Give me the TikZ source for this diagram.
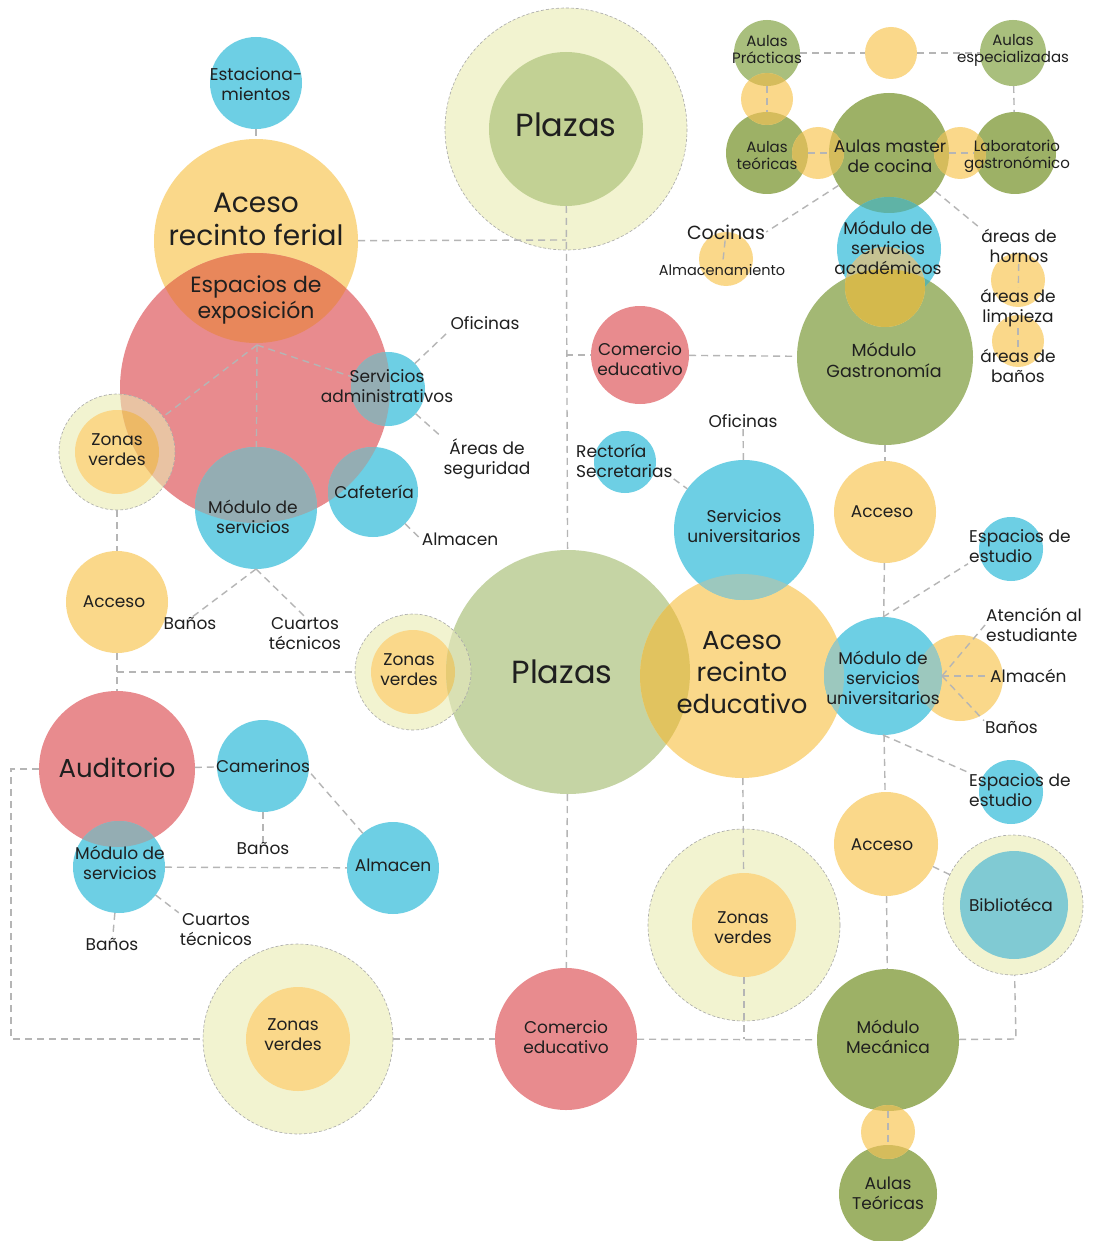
\documentclass[tikz,border=0pt]{standalone}
\usepackage{fontspec}
\setmainfont{Poppins}
\definecolor{yel}{HTML}{FAD88A}
\definecolor{blu}{HTML}{6DCFE4}
\definecolor{rosa}{HTML}{E88B8E}
\definecolor{olv}{HTML}{9DB166}
\definecolor{olvL}{HTML}{A9BF7D}
\definecolor{olvG}{HTML}{A3B874}
\definecolor{plz}{HTML}{C5D4A4}
\definecolor{plzT}{HTML}{C2D194}
\definecolor{pale}{HTML}{F2F3D0}
\definecolor{tealb}{HTML}{80CAD3}
\definecolor{orng}{HTML}{E8875B}
\definecolor{grayblu}{HTML}{94ADB3}
\definecolor{cpr}{HTML}{E9C3A3}
\definecolor{cyr}{HTML}{EDB966}
\definecolor{cpp}{HTML}{D9E0B3}
\definecolor{cyp}{HTML}{E6CB74}
\definecolor{cpy}{HTML}{E1C35F}
\definecolor{cby}{HTML}{9CC8BE}
\definecolor{cyg}{HTML}{D5BC5C}
\definecolor{cbg}{HTML}{5FB3A6}
\definecolor{cys}{HTML}{C6C393}
\definecolor{cyg2}{HTML}{D4B94C}
\definecolor{lin}{HTML}{B5B5B5}
\definecolor{ringc}{HTML}{A8A8A8}
\definecolor{txt}{HTML}{1F1F1F}
\newcommand\ovl[5]{\begin{scope}\clip (#1) circle[radius=#2];\fill[#5] (#3) circle[radius=#4];\end{scope}}
\tikzset{
  bub/.style={circle,inner sep=0pt,outer sep=0pt,minimum size=2*#1},
  ring/.style={circle,inner sep=0pt,outer sep=0pt,minimum size=2*#1,fill=pale},
  ringb/.style={draw=ringc,line width=0.6pt,dash pattern=on 3pt off 2pt},
  con/.style={draw=lin,line width=1.4pt,dash pattern=on 7pt off 5pt},
  tb/.style={align=center,text=txt,inner sep=1pt},
  t14/.style={tb,font=\fontsize{14.5}{17}\selectfont},
  t15/.style={tb,font=\fontsize{15}{17}\selectfont},
  t17/.style={tb,font=\fontsize{17}{20}\selectfont},
  t18/.style={tb,font=\fontsize{17.5}{21}\selectfont},
  t19/.style={tb,font=\fontsize{19}{22}\selectfont},
  t22/.style={tb,font=\fontsize{22}{26}\selectfont},
  t28/.style={tb,font=\fontsize{28}{33}\selectfont},
  t26/.style={tb,font=\fontsize{26}{32}\selectfont},
  t32/.style={tb,font=\fontsize{32}{36}\selectfont},
}
\begin{document}
\begin{tikzpicture}[x=1pt,y=-1pt]
\useasboundingbox (0,0) rectangle (1092,1241);
\fill[white] (0,0) rectangle (1092,1241);
% rings
\node[ring=121] (plzTr) at (566,129) {};
\node[ring=95] (zvLLr) at (298,1039) {};
\node[ring=96] (zvLMr) at (744,925) {};
\node[ring=70] (biblr) at (1013,905) {};
% left cluster
\node[bub=46,fill=blu] (est) at (256,83) {};
\node[bub=102,fill=yel] (fer) at (256,241) {};
\node[bub=135,fill=rosa] (red) at (255,388) {};
\ovl{fer.center}{102}{red.center}{135}{orng}
\node[ring=58] (zvLr) at (117,452) {};
\node[bub=42,fill=yel] (zvLi) at (117,452) {};
\node[bub=37,fill=blu] (servAdm) at (388,389) {};
\node[bub=61,fill=blu] (modS) at (256,508) {};
\node[bub=45,fill=blu] (cafe) at (373,492) {};
\ovl{red.center}{135}{zvLr.center}{58}{cpr}
\ovl{red.center}{135}{zvLi.center}{42}{cyr}
\ovl{red.center}{135}{servAdm.center}{37}{grayblu}
\ovl{red.center}{135}{modS.center}{61}{grayblu}
\ovl{red.center}{135}{cafe.center}{45}{grayblu}
\draw[ringb] (zvLr.center) circle[radius=58];
\node[bub=51,fill=yel] (accL) at (117,602) {};
\node[bub=78,fill=rosa] (aud) at (117,769) {};
\node[bub=46,fill=blu] (cam) at (263,766) {};
\node[bub=46,fill=blu] (alm) at (393,868) {};
\node[bub=46,fill=blu] (modS2) at (119,867) {};
\ovl{aud.center}{78}{modS2.center}{46}{grayblu}
\node[bub=52,fill=yel] (zvLLi) at (298,1039) {};
% centre
\node[bub=77,fill=plzT] (plzTi) at (566,129) {};
\node[bub=122,fill=plz] (plzB) at (568,672) {};
\node[ring=58] (zvMr) at (413,672) {};
\node[bub=42,fill=yel] (zvMi) at (413,672) {};
\ovl{plzB.center}{122}{zvMr.center}{58}{cpp}
\ovl{plzB.center}{122}{zvMi.center}{42}{cyp}
\draw[ringb] (zvMr.center) circle[radius=58];
\node[bub=102,fill=yel] (aceEdu) at (742,676) {};
\ovl{plzB.center}{122}{aceEdu.center}{102}{cpy}
\node[bub=70,fill=blu] (servU) at (744,530) {};
\ovl{aceEdu.center}{102}{servU.center}{70}{cby}
\node[bub=31,fill=blu] (rect) at (625,462) {};
\node[bub=49,fill=rosa] (comU) at (640,355) {};
\node[bub=71,fill=rosa] (comL) at (566,1039) {};
\node[bub=52,fill=yel] (zvLMi) at (744,925) {};
% right
\node[bub=88,fill=olvG] (gast) at (885,357) {};
\node[bub=60,fill=olv] (master) at (889,153) {};
\node[bub=52,fill=blu] (sacad) at (889,249) {};
\ovl{master.center}{60}{sacad.center}{52}{cbg}
\ovl{gast.center}{88}{sacad.center}{52}{cbg}
\node[bub=40,fill=yel] (ySac) at (885,287) {};
\ovl{sacad.center}{52}{ySac.center}{40}{cys}
\ovl{gast.center}{88}{ySac.center}{40}{cyg2}
\node[bub=41,fill=olv] (aTeo) at (767,153) {};
\node[bub=41,fill=olv] (lab) at (1015,153) {};
\node[bub=33,fill=olvL] (aPra) at (767,53) {};
\node[bub=33,fill=olvL] (aEsp) at (1013,53) {};
\node[bub=26,fill=yel] (y1) at (891,53) {};
\node[bub=26,fill=yel] (y2) at (767,99) {};
\node[bub=26,fill=yel] (y3) at (818,153) {};
\node[bub=26,fill=yel] (y4) at (960,153) {};
\ovl{aPra.center}{33}{y2.center}{26}{cyg}
\ovl{aTeo.center}{41}{y2.center}{26}{cyg}
\ovl{aTeo.center}{41}{y3.center}{26}{cyg}
\ovl{master.center}{60}{y3.center}{26}{cyg}
\ovl{master.center}{60}{y4.center}{26}{cyg}
\ovl{lab.center}{41}{y4.center}{26}{cyg}
\node[bub=27,fill=yel] (coy) at (726,259) {};
\node[bub=27,fill=yel] (hy1) at (1018,280) {};
\node[bub=26,fill=yel] (hy2) at (1018,341) {};
\node[bub=51,fill=yel] (acc2) at (885,512) {};
\node[bub=43,fill=yel] (ysm) at (960,678) {};
\node[bub=59,fill=blu] (modSU) at (883,676) {};
\ovl{aceEdu.center}{102}{modSU.center}{59}{cby}
\ovl{ysm.center}{43}{modSU.center}{59}{cby}
\node[bub=32,fill=blu] (espE1) at (1011,549) {};
\node[bub=32,fill=blu] (espE2) at (1011,792) {};
\node[bub=52,fill=yel] (acc3) at (886,844) {};
\node[bub=54,fill=tealb] (bibli) at (1014,905) {};
\node[bub=71,fill=olv] (mec) at (888,1040) {};
\node[bub=49,fill=olv] (aT2) at (888,1194) {};
\node[bub=27,fill=yel] (yb) at (888,1132) {};
\ovl{mec.center}{71}{yb.center}{27}{cyg}
\ovl{aT2.center}{49}{yb.center}{27}{cyg}
% ring borders
\draw[ringb] (plzTr.center) circle[radius=121];
\draw[ringb] (zvLLr.center) circle[radius=95];
\draw[ringb] (zvLMr.center) circle[radius=96];
\draw[ringb] (biblr.center) circle[radius=70];
% texts
\node[t17] (estT) at (256,84) {Estaciona-\\mientos};
\node[t28] (ferT) at (256,219) {Aceso\\recinto ferial};
\node[t22] (expT) at (256,300) {Espacios de\\exposición};
\node[t32] (plzTT) at (566,125) {Plazas};
\node[t17] (servAdmT) at (387,386) {Servicios\\administrativos};
\node[t17] (ofi1) at (485,323) {Oficinas};
\node[t17] (seg) at (487,459) {Áreas de\\seguridad};
\node[t17] (zvLT) at (117,450) {Zonas\\verdes};
\node[t17] (modST) at (253,517) {Módulo de\\servicios};
\node[t17] (cafeT) at (374,492) {Cafetería};
\node[t17] (almT1) at (460,539) {Almacen};
\node[t17] (accLT) at (114,602) {Acceso};
\node[t17] (ban1) at (190,624) {Baños};
\node[t17] (cua1) at (305,634) {Cuartos\\técnicos};
\node[t17] (zvMT) at (409,670) {Zonas\\verdes};
\node[t32] (plzBT) at (562,672) {Plazas};
\node[t26] (audT) at (117,768) {Auditorio};
\node[t17] (camT) at (263,766) {Camerinos};
\node[t17] (ban2) at (263,849) {Baños};
\node[t17] (almT2) at (393,865) {Almacen};
\node[t17] (modS2T) at (120,863) {Módulo de\\servicios};
\node[t17] (cua2) at (216,930) {Cuartos\\técnicos};
\node[t17] (ban3) at (112,945) {Baños};
\node[t17] (zvLLT) at (293,1035) {Zonas\\verdes};
\node[t17] (comLT) at (566,1037) {Comercio\\educativo};
\node[t17] (zvLMT) at (743,928) {Zonas\\verdes};
\node[t17] (mecT) at (888,1037) {Módulo\\Mecánica};
\node[t17] (aT2T) at (888,1193) {Aulas\\Teóricas};
\node[t17] (acc3T) at (882,845) {Acceso};
\node[t17] (biblT) at (1011,905) {Bibliotéca};
\node[t17,anchor=west,align=left] (espE1T) at (968,546) {Espacios de\\estudio};
\node[t17,anchor=west,align=left] (espE2T) at (968,790) {Espacios de\\estudio};
\node[t17,anchor=west,align=left] (atenT) at (985,625) {Atención al\\estudiante};
\node[t17,anchor=west] (almT3) at (989,676) {Almacén};
\node[t17,anchor=west] (banT) at (984,728) {Baños};
\node[t17] (modSUT) at (883,678) {Módulo de\\servicios\\universitarios};
\node[t26] (aceEduT) at (742,673) {Aceso\\recinto\\educativo};
\node[t17] (servUT) at (744,526) {Servicios\\universitarios};
\node[t17] (ofi2) at (743,421) {Oficinas};
\node[t17,anchor=west,align=left] (rectT) at (575,461) {Rectoría\\Secretarias};
\node[t17] (acc2T) at (882,512) {Acceso};
\node[t17] (comUT) at (640,359) {Comercio\\educativo};
\node[t18] (gastT) at (884,360) {Módulo\\Gastronomía};
\node[t17] (sacadT) at (888,248) {Módulo de\\servicios\\académicos};
\node[t19] (cocT) at (726,232) {Cocinas};
\node[t14] (almaT) at (722,270) {Almacenamiento};
\node[t17] (hornT) at (1019,246) {áreas de\\hornos};
\node[t17] (limT) at (1018,308) {áreas de\\limpieza};
\node[t17] (banGT) at (1018,366) {áreas de\\baños};
\node[t15] (aPraT) at (767,50) {Aulas\\Prácticas};
\node[t15] (aEspT) at (1013,50) {Aulas\\especializadas};
\node[t15] (aTeoT) at (767,156) {Aulas\\teóricas};
\node[t17] (masterT) at (890,156) {Aulas master\\de cocina};
\node[t15] (labT) at (1017,156) {Laboratorio\\gastronómico};
% connectors
\coordinate (jA) at (566,240);
\coordinate (jB) at (566,355);
\coordinate (ap1) at (257,345);
\coordinate (jC) at (117,672);
\coordinate (jD) at (11,769);
\coordinate (jE) at (11,1039);
\coordinate (jF) at (1016,1039);
\coordinate (jG) at (744,1039);
\draw[con] (est) -- (fer);
\draw[con] (fer) -- (jA);
\draw[con] (plzTi) -- (plzB);
\draw[con] (jB) -- (comU);
\draw[con] (comU) -- (gast);
\draw[con] (plzB) -- (comL);
\draw[con] (ap1) -- (zvLr);
\draw[con] (ap1) -- (modS);
\draw[con] (ap1) -- (servAdm);
\draw[con] (servAdm) -- (ofi1.south west);
\draw[con] (servAdm) -- (seg.north west);
\draw[con] (cafe) -- (almT1.west);
\draw[con] (zvLr) -- (accL);
\draw[con] (modS.south) -- (ban1.70);
\draw[con] (modS.south) -- (cua1.north);
\draw[con] (accL) -- (aud);
\draw[con] (jC) -- (zvMr);
\draw[con] (aud) -- (cam);
\draw[con] (camT.south east) -- (alm);
\draw[con] (cam) -- (ban2);
\draw[con] (modS2) -- (alm);
\draw[con] (modS2) -- (cua2.north west);
\draw[con] (modS2) -- (ban3);
\draw[con] (aud) -- (jD) -- (jE) -- (zvLLr);
\draw[con] (zvLLr) -- (comL);
\draw[con] (comL) -- (mec);
\draw[con] (mec) -- (jF) -- (biblr);
\draw[con] (aceEdu) -- (zvLMi);
\draw[con] (zvLMi) -- (jG);
\draw[con] (servU) -- (ofi2);
\draw[con] (rectT.south east) -- (servU);
\draw[con] (gast) -- (acc2);
\draw[con] (acc2) -- (modSU);
\draw[con] (modSU) -- (acc3);
\draw[con] (acc3) -- (mec);
\draw[con] (acc3) -- (biblr);
\draw[con] (modSU.north) -- (espE1T.south west);
\draw[con] (modSU.south) -- (espE2T.north west);
\draw[con] (modSU.east) -- (atenT.west);
\draw[con] (modSU.east) -- (almT3.west);
\draw[con] (modSU.east) -- (banT.north west);
\draw[con] (mec) -- (aT2);
\draw[con] (aPra) -- (y1);
\draw[con] (y1) -- (aEsp);
\draw[con] (aPra) -- (aTeo);
\draw[con] (aEsp) -- (lab);
\draw[con] (aTeo) -- (master);
\draw[con] (master) -- (lab);
\draw[con] (master) -- (cocT.east);
\draw[con] (master) -- (hornT.north west);
\draw[con] (cocT) -- (almaT);
\draw[con] (hornT) -- (limT);
\draw[con] (limT) -- (banGT);
\end{tikzpicture}
\end{document}
